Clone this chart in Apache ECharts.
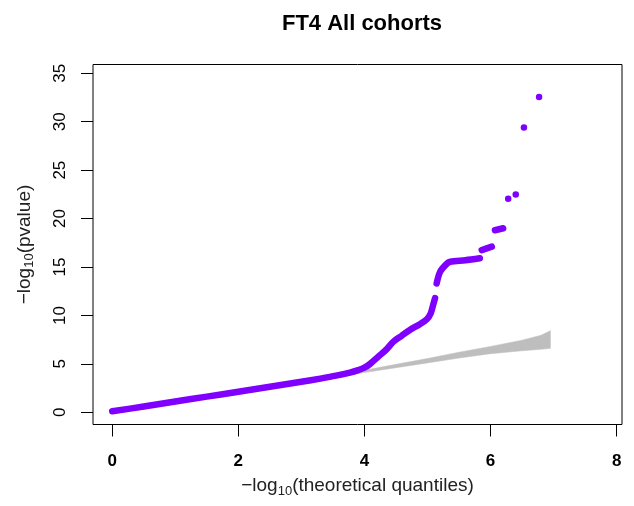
<!DOCTYPE html>
<html>
<head>
<meta charset="utf-8">
<script src="https://cdn.jsdelivr.net/npm/echarts@6/dist/echarts.min.js"></script>
<style>
  html, body { margin: 0; padding: 0; background: #fff; }
  #chart { width: 634px; height: 506px; }
</style>
</head>
<body>
<div id="chart"></div>
<script>
// QQ plot of FT4 association p-values, all cohorts combined.

const titleText = 'FT4 All cohorts';
const xTicks = [0, 2, 4, 6, 8];
const yTicks = [0, 5, 10, 15, 20, 25, 30, 35];

// 95% null band: expected -log10 quantile, lower and upper bounds
const bandX     = [0, 1, 2, 3, 3.5, 4, 4.5, 5, 5.5, 6, 6.5, 6.8, 6.95];
const bandLower = [0, 0.98, 1.96, 2.95, 3.55, 4.1, 4.6, 5.1, 5.6, 6.05, 6.35, 6.5, 6.6];
const bandUpper = [0, 1.03, 2.06, 3.1, 3.72, 4.35, 4.95, 5.55, 6.2, 6.8, 7.45, 7.95, 8.43];

// Observed vs expected, dense run of points (bulk of the distribution)
const bulkPoints = [
  [0, 0.1], [0.5, 0.6], [1, 1.12], [1.5, 1.62], [2, 2.12], [2.5, 2.63],
  [3, 3.15], [3.3, 3.48], [3.55, 3.78], [3.77, 4.1], [3.9, 4.35], [4.0, 4.6],
  [4.09, 5.0], [4.22, 5.75], [4.35, 6.5], [4.46, 7.3], [4.59, 7.9], [4.72, 8.5],
  [4.88, 9.1], [4.99, 9.6], [5.05, 10.2], [5.09, 11.1], [5.12, 11.8]
];
// Upper shoulder up to the plateau near 15.6
const shoulderPoints = [
  [5.145, 13.3], [5.2, 14.5], [5.3, 15.3], [5.36, 15.55], [5.6, 15.7], [5.83, 15.9]
];
// Short clusters above the plateau
const clusterA = [[5.86, 16.75], [6.02, 17.1]];
const clusterB = [[6.07, 18.8], [6.2, 19.0]];
// Isolated top hits
const topHits = [[6.28, 22.05], [6.40, 22.5], [6.53, 29.4], [6.77, 32.55]];

const PURPLE = '#7f00ff';
const GREY = '#bebebe';
const FONT = 'Liberation Sans, Arial, sans-serif';

function runSeries(data) {
  return {
    type: 'line',
    data: data,
    showSymbol: false,
    silent: true,
    smooth: 0.3,
    z: 5,
    lineStyle: { color: PURPLE, width: 6.5, cap: 'round', join: 'round' }
  };
}

const axisNameRich = {
  t: { fontFamily: FONT, fontSize: 19, color: '#222' },
  s: { fontFamily: FONT, fontSize: 13, color: '#222', padding: [10, 0, 0, 0] }
};

const chart = echarts.init(document.getElementById('chart'), null, { renderer: 'canvas' });

chart.setOption({
  animation: false,
  backgroundColor: '#fff',
  title: {
    text: titleText,
    left: 357,
    top: 8,
    textAlign: 'center',
    textStyle: { fontFamily: FONT, fontSize: 22, fontWeight: 'bold', color: '#000' }
  },
  grid: {
    left: 93, right: 12, top: 64.5, height: 360,
    show: true, borderColor: '#000', borderWidth: 1, backgroundColor: 'transparent'
  },
  xAxis: {
    type: 'value',
    min: -0.305, max: 8.085,
    axisLine: { show: false, onZero: false },
    splitLine: { show: false },
    axisTick: { show: true, inside: false, length: 12, customValues: xTicks,
                lineStyle: { color: '#000', width: 1 } },
    axisLabel: { customValues: xTicks, margin: 28, fontFamily: FONT, fontSize: 17,
                 fontWeight: 'bold', color: '#000' },
    name: '{t|\u2212log}{s|10}{t|(theoretical quantiles)}',
    nameLocation: 'middle',
    nameGap: 50,
    nameTextStyle: { rich: axisNameRich }
  },
  yAxis: {
    type: 'value',
    min: -1.26, max: 35.91,
    axisLine: { show: false, onZero: false },
    splitLine: { show: false },
    axisTick: { show: true, inside: false, length: 12, customValues: yTicks,
                lineStyle: { color: '#000', width: 1 } },
    axisLabel: { customValues: yTicks, rotate: 90, margin: 24, fontFamily: FONT,
                 fontSize: 17, color: '#000' },
    name: '{t|\u2212log}{s|10}{t|(pvalue)}',
    nameLocation: 'middle',
    nameGap: 57,
    nameTextStyle: { rich: axisNameRich }
  },
  series: [
    {
      // grey 95% band drawn as one polygon from the bound arrays
      type: 'custom',
      silent: true,
      z: 2,
      data: [0],
      renderItem: function (params, api) {
        const pts = [];
        for (let i = 0; i < bandX.length; i++) pts.push(api.coord([bandX[i], bandUpper[i]]));
        for (let i = bandX.length - 1; i >= 0; i--) pts.push(api.coord([bandX[i], bandLower[i]]));
        return { type: 'polygon', shape: { points: pts }, style: { fill: GREY, stroke: GREY, lineWidth: 0.5 } };
      }
    },
    runSeries(bulkPoints),
    runSeries(shoulderPoints),
    runSeries(clusterA),
    runSeries(clusterB),
    {
      type: 'scatter',
      data: topHits,
      symbol: 'circle',
      symbolSize: 6.5,
      silent: true,
      z: 5,
      itemStyle: { color: PURPLE, opacity: 1 }
    }
  ]
});
</script>
</body>
</html>
